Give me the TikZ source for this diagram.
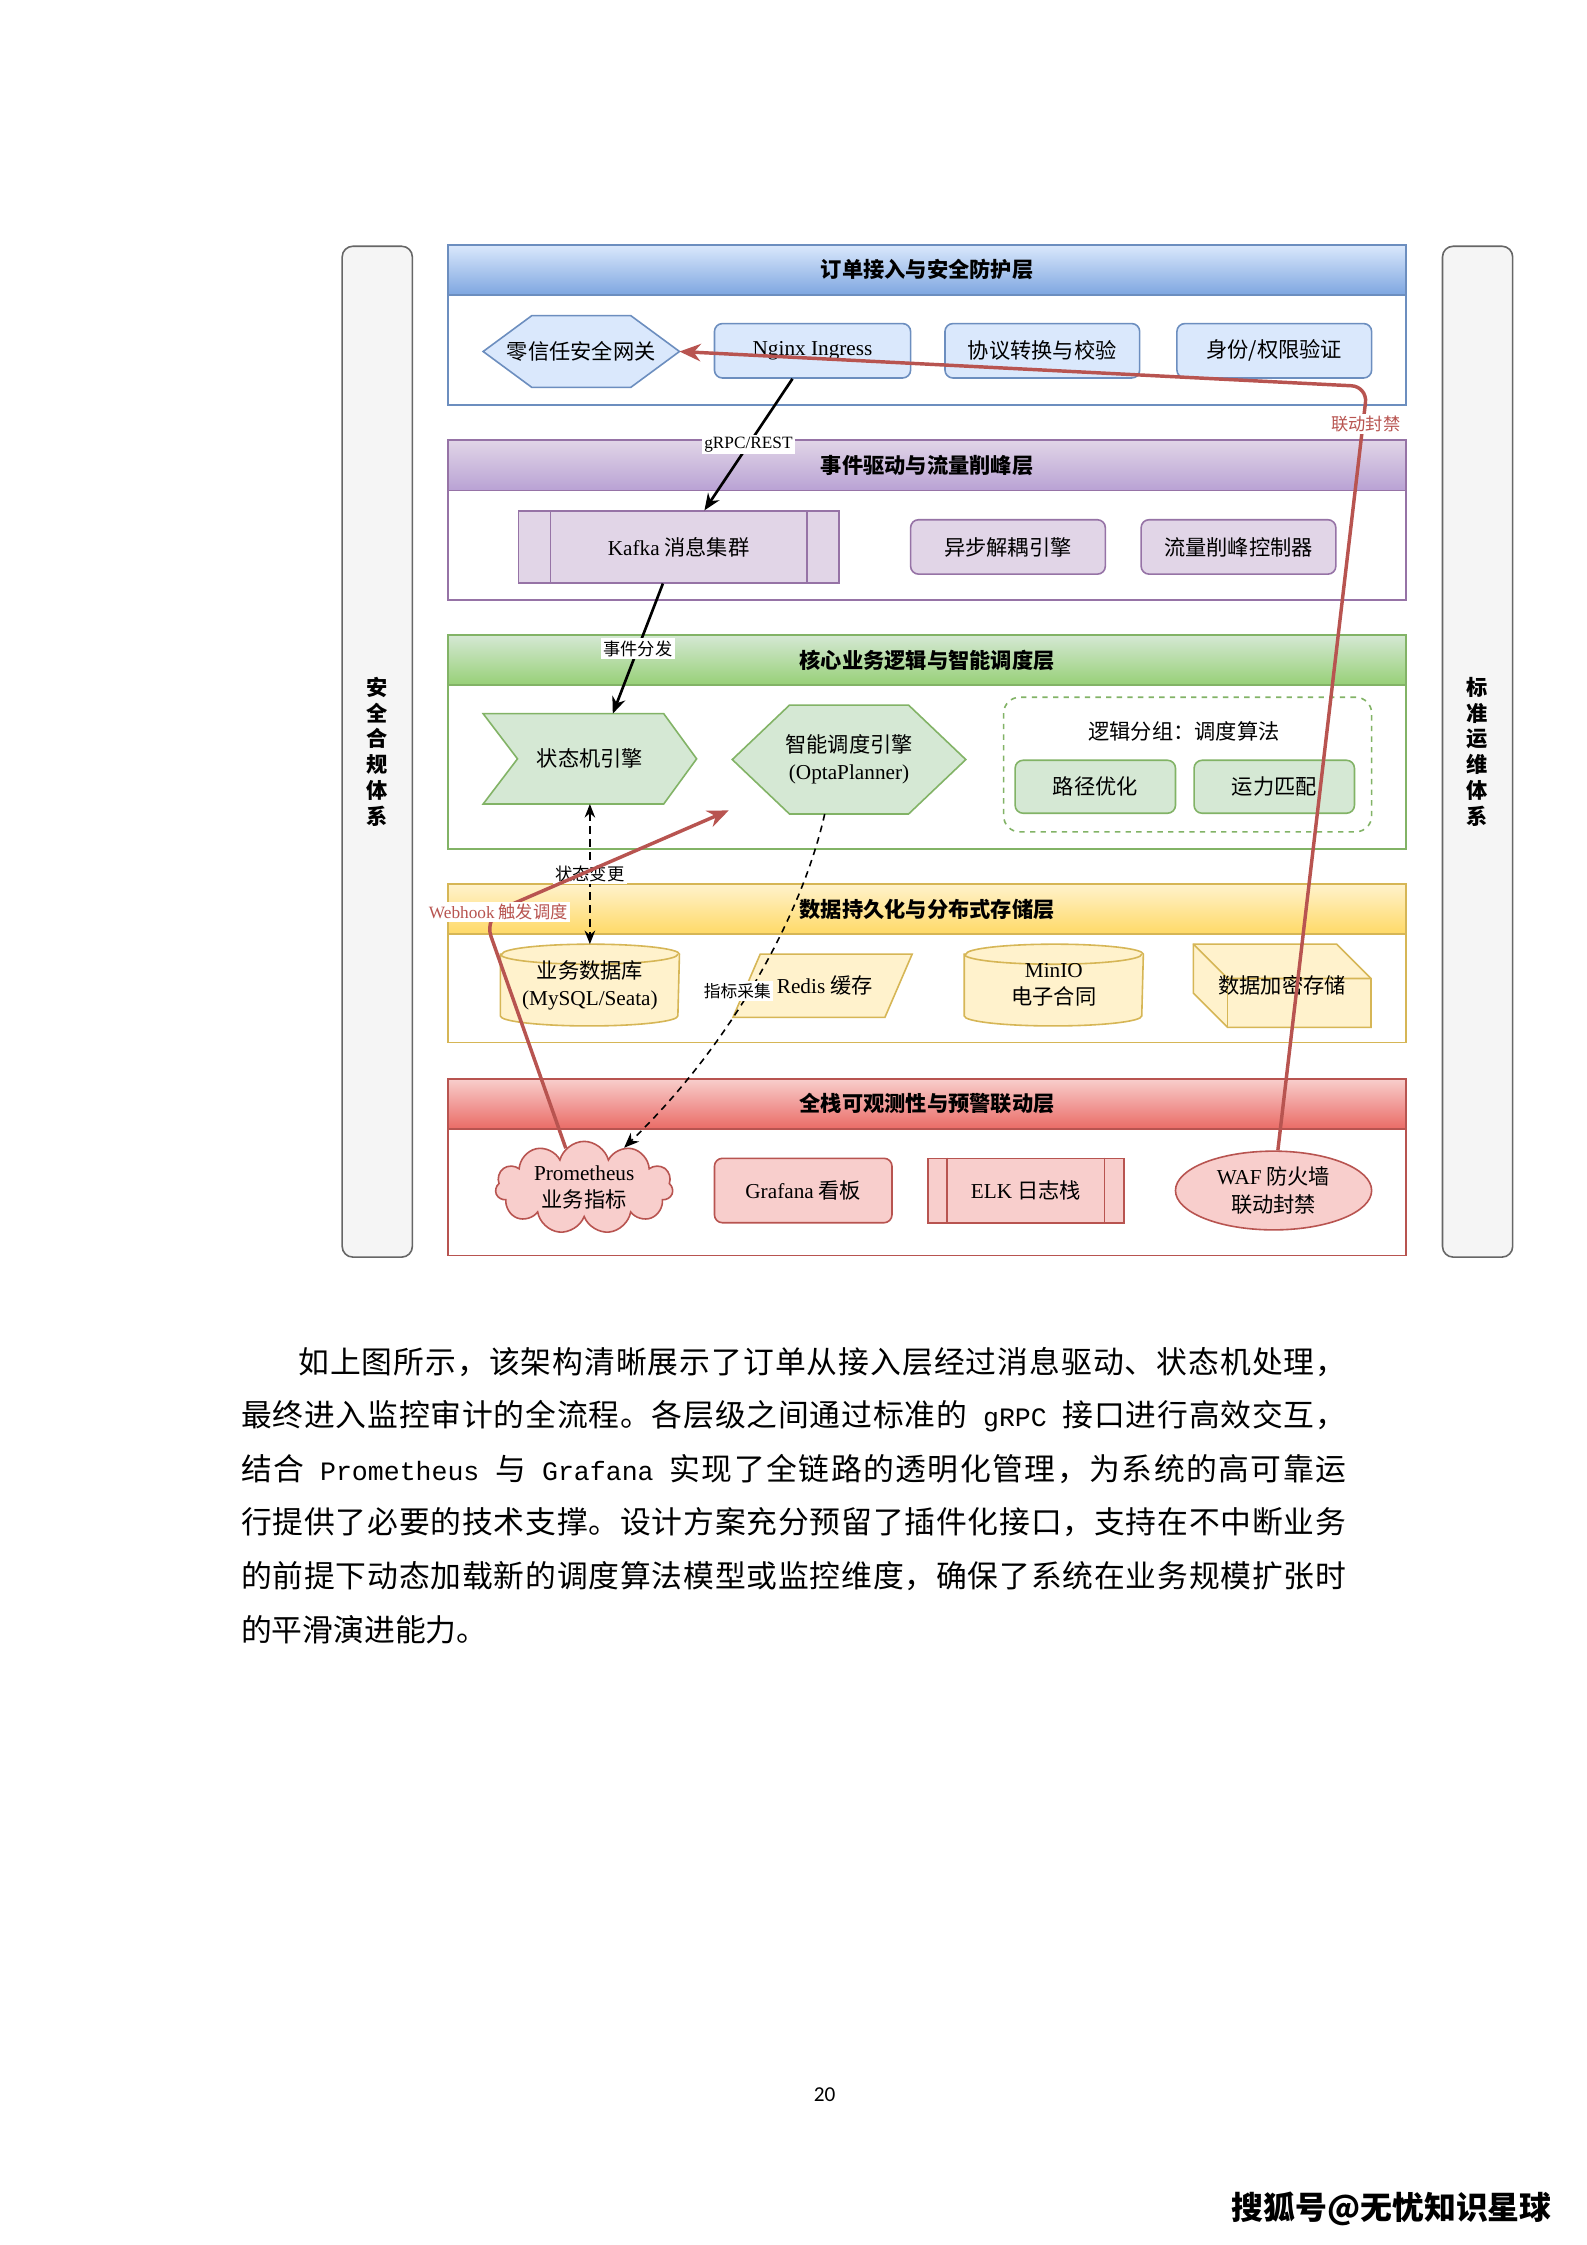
\documentclass[tikz,border=0pt]{standalone}
\usepackage{fontspec}
\setmainfont{Noto Sans CJK SC}
\newfontfamily\tms{Liberation Serif}
\newfontfamily\mono{Liberation Mono}
\newfontfamily\carl{Carlito}
\usetikzlibrary{arrows.meta,shapes.geometric,shapes.symbols,backgrounds}
\newcount\cjkcode
\cjkcode="4E00
\loop\ifnum\cjkcode<"A000 \XeTeXcharclass\cjkcode=7 \advance\cjkcode by 1 \repeat
\XeTeXcharclass"3001=7
\XeTeXcharclass"3002=7
\XeTeXcharclass"FF0C=7
\XeTeXcharclass"FF1A=7
\XeTeXinterchartoks 7 7 = {\hskip 0pt plus 1fil\relax}
\newcommand{\latinword}[1]{{\mono\fontsize{10}{14}\selectfont\space#1\space}}
\newcommand{\spreadline}[2]{\XeTeXinterchartokenstate=1\relax\hbox to #1{#2}}
\newlength\pxu
\setlength\pxu{0.018953cm}
\definecolor{blueline}{HTML}{6C8EBF}
\definecolor{bluefill}{HTML}{DAE8FC}
\definecolor{bluedeep}{HTML}{7EA6E0}
\definecolor{purpleline}{HTML}{9673A6}
\definecolor{purplefill}{HTML}{E1D5E7}
\definecolor{purpledeep}{HTML}{B9A2D4}
\definecolor{greenline}{HTML}{82B366}
\definecolor{greenfill}{HTML}{D5E8D4}
\definecolor{greendeep}{HTML}{97D077}
\definecolor{yellowline}{HTML}{D6B656}
\definecolor{yellowfill}{HTML}{FFF2CC}
\definecolor{yellowdeep}{HTML}{FFD966}
\definecolor{redline}{HTML}{B85450}
\definecolor{redfill}{HTML}{F8CECC}
\definecolor{reddeep}{HTML}{EA6B66}
\definecolor{sideline}{HTML}{666666}
\definecolor{sidefill}{HTML}{F5F5F5}

\begin{document}
\begin{tikzpicture}[x=0.018953cm,y=-0.018953cm]
\tikzset{
  nodefont/.style={font=\fontsize{8}{10.3}\selectfont},
  sidebox/.style={draw=sideline,fill=sidefill,line width=0.6pt,rounded corners=4pt,align=center,
    font=\fontsize{8}{9.7}\selectfont\bfseries,minimum width=49\pxu,minimum height=706\pxu},
  layerbox/.style={draw=#1line,line width=0.6pt},
  band/.style={draw=#1line,line width=0.6pt,top color=#1fill,bottom color=#1deep,inner sep=0pt,
    minimum width=669\pxu,minimum height=35\pxu,font=\fontsize{8}{9.7}\selectfont\bfseries},
  elem/.style={nodefont,align=center,inner sep=1pt,line width=0.6pt},
  roundbox/.style={elem,draw=#1line,fill=#1fill,rounded corners=3pt},
  sharpbox/.style={elem,draw=#1line,fill=#1fill},
  hidden/.style={elem},
  outline/.style={draw=#1line,fill=#1fill,line width=0.6pt},
  groupbox/.style={draw=greenline,line width=0.6pt,dash pattern=on 2pt off 2pt,rounded corners=6pt},
  flow/.style={draw=black,line width=1pt,-{Stealth[length=2.2mm,width=1.8mm]}},
  dashflow/.style={draw=black,line width=0.6pt,dash pattern=on 3pt off 2pt},
  alarmflow/.style={draw=redline,line width=1.3pt,-{Stealth[length=2.8mm,width=2.3mm]}},
  flowlabel/.style={fill=white,inner sep=0.8pt,font=\fontsize{6.5}{7}\selectfont},
  alarmlabel/.style={flowlabel,text=redline},
  paraline/.style={anchor=west,inner sep=0pt,font=\fontsize{11.6}{14}\selectfont}
}
\useasboundingbox (0,0) rectangle (1108,1568);
\begin{scope}[on background layer]
\fill[white] (0,0) rectangle (1108,1568);
\end{scope}

\node[sidebox] (n_secside) at (263.5,525) {安\\全\\合\\规\\体\\系};
\node[sidebox] (n_opsside) at (1032,525) {标\\准\\运\\维\\体\\系};

\draw[layerbox=blue] (313,171) rectangle (982,283);
\node[band=blue] (n_bandA) at (647.5,188.5) {订单接入与安全防护层};
\draw[layerbox=purple] (313,307.5) rectangle (982,419);
\node[band=purple] (n_bandB) at (647.5,325) {事件驱动与流量削峰层};
\draw[layerbox=green] (313,443.5) rectangle (982,593);
\node[band=green] (n_bandC) at (647.5,461) {核心业务逻辑与智能调度层};
\draw[layerbox=yellow] (313,617.5) rectangle (982,728);
\node[band=yellow] (n_bandD) at (647.5,635) {数据持久化与分布式存储层};
\draw[layerbox=red] (313,753.5) rectangle (982,877);
\node[band=red] (n_bandE) at (647.5,771) {全栈可观测性与预警联动层};

\node[hidden,minimum width=136\pxu,minimum height=49\pxu] (n_gw) at (406,245.5) {零信任安全网关};
\node[roundbox=blue,minimum width=137\pxu,minimum height=38\pxu] (n_nginx) at (567.5,245) {\tms Nginx Ingress};
\node[roundbox=blue,minimum width=136\pxu,minimum height=38\pxu] (n_proto) at (728,245) {协议转换与校验};
\node[roundbox=blue,minimum width=136\pxu,minimum height=38\pxu] (n_auth) at (890,245) {身份/权限验证};

\node[sharpbox=purple,minimum width=224\pxu,minimum height=50\pxu] (n_kafka) at (474,382) {{\tms Kafka} 消息集群};
\draw[purpleline,line width=0.6pt] ([xshift=23\pxu]n_kafka.north west) -- ([xshift=23\pxu]n_kafka.south west);
\draw[purpleline,line width=0.6pt] ([xshift=-23\pxu]n_kafka.north east) -- ([xshift=-23\pxu]n_kafka.south east);
\node[roundbox=purple,minimum width=136\pxu,minimum height=38\pxu] (n_async) at (704,382) {异步解耦引擎};
\node[roundbox=purple,minimum width=136\pxu,minimum height=38\pxu] (n_peak) at (865,382) {流量削峰控制器};

\node[hidden,minimum width=148\pxu,minimum height=62\pxu] (n_fsm) at (412,530) {状态机引擎};
\node[hidden,minimum width=162\pxu,minimum height=75\pxu] (n_opta) at (593,530.5) {智能调度引擎\\{\tms (OptaPlanner)}};
\node[groupbox,minimum width=257\pxu,minimum height=94\pxu] (n_algo) at (829.5,534) {};
\node[hidden] (n_algolbl) at (827,511) {逻辑分组：调度算法};
\node[roundbox=green,minimum width=112\pxu,minimum height=37\pxu] (n_route) at (765,549.5) {路径优化};
\node[roundbox=green,minimum width=112\pxu,minimum height=37\pxu] (n_match) at (890,549.5) {运力匹配};

\node[hidden,minimum width=124\pxu,minimum height=56\pxu] (n_db) at (412,688) {业务数据库\\{\tms (MySQL/Seata)}};
\node[hidden,minimum width=124\pxu,minimum height=43\pxu] (n_redis) at (576,688.5) {{\tms Redis} 缓存};
\node[hidden,minimum width=124\pxu,minimum height=56\pxu] (n_minio) at (736,688) {{\tms MinIO}\\电子合同};
\node[hidden,minimum width=123\pxu,minimum height=57\pxu] (n_vault) at (895.5,688.5) {数据加密存储};

\node[elem,cloud,cloud puffs=11,aspect=2.2,inner sep=0pt,draw=redline,fill=redfill,minimum width=124\pxu,minimum height=55\pxu] (n_prom) at (408,829.5) {{\tms Prometheus}\\业务指标};
\node[roundbox=red,minimum width=124\pxu,minimum height=45\pxu] (n_grafana) at (561,831.5) {{\tms Grafana} 看板};
\node[sharpbox=red,minimum width=137\pxu,minimum height=45\pxu] (n_elk) at (716.5,831.5) {{\tms ELK} 日志栈};
\draw[redline,line width=0.6pt] ([xshift=14\pxu]n_elk.north west) -- ([xshift=14\pxu]n_elk.south west);
\draw[redline,line width=0.6pt] ([xshift=-14\pxu]n_elk.north east) -- ([xshift=-14\pxu]n_elk.south east);
\node[elem,ellipse,inner sep=0pt,draw=redline,fill=redfill,minimum width=137\pxu,minimum height=55\pxu] (n_waf) at (889.5,831.5) {{\tms WAF} 防火墙\\联动封禁};

\begin{scope}[on background layer]
\draw[outline=blue] (n_gw.west) -- ([xshift=34\pxu]n_gw.north west) -- ([xshift=-34\pxu]n_gw.north east) -- (n_gw.east)
  -- ([xshift=-34\pxu]n_gw.south east) -- ([xshift=34\pxu]n_gw.south west) -- cycle;
\draw[outline=green] ([xshift=24\pxu]n_fsm.west) -- (n_fsm.north west) -- ([xshift=-23\pxu]n_fsm.north east) -- (n_fsm.east)
  -- ([xshift=-23\pxu]n_fsm.south east) -- (n_fsm.south west) -- cycle;
\draw[outline=green] (n_opta.west) -- ([xshift=40\pxu]n_opta.north west) -- ([xshift=-40\pxu]n_opta.north east) -- (n_opta.east)
  -- ([xshift=-40\pxu]n_opta.south east) -- ([xshift=40\pxu]n_opta.south west) -- cycle;
\draw[outline=yellow] ([yshift=-7\pxu]n_db.north west) -- ([yshift=7\pxu]n_db.south west)
  arc[start angle=180,end angle=360,x radius=62\pxu,y radius=7\pxu] -- ([yshift=-7\pxu]n_db.north east)
  arc[start angle=0,end angle=180,x radius=62\pxu,y radius=7\pxu] -- cycle;
\draw[outline=yellow,fill=none] ([yshift=-7\pxu]n_db.north west) arc[start angle=180,end angle=360,x radius=62\pxu,y radius=7\pxu];
\draw[outline=yellow] ([yshift=-7\pxu]n_minio.north west) -- ([yshift=7\pxu]n_minio.south west)
  arc[start angle=180,end angle=360,x radius=62\pxu,y radius=7\pxu] -- ([yshift=-7\pxu]n_minio.north east)
  arc[start angle=0,end angle=180,x radius=62\pxu,y radius=7\pxu] -- cycle;
\draw[outline=yellow,fill=none] ([yshift=-7\pxu]n_minio.north west) arc[start angle=180,end angle=360,x radius=62\pxu,y radius=7\pxu];
\draw[outline=yellow] ([xshift=-1.5\pxu]n_redis.south west) -- ([xshift=17.5\pxu]n_redis.north west) -- ([xshift=-1.5\pxu]n_redis.north east)
  -- ([xshift=-20.5\pxu]n_redis.south east) -- cycle;
\draw[outline=yellow] (n_vault.north west) -- ([xshift=-24\pxu]n_vault.north east) -- ([yshift=-24\pxu]n_vault.north east)
  -- (n_vault.south east) -- ([xshift=24\pxu]n_vault.south west) -- ([yshift=24\pxu]n_vault.south west) -- cycle;
\draw[outline=yellow,fill=none] (n_vault.north west) -- ([xshift=24\pxu,yshift=-24\pxu]n_vault.north west)
  -- ([yshift=-24\pxu]n_vault.north east);
\draw[outline=yellow,fill=none] ([xshift=24\pxu,yshift=-24\pxu]n_vault.north west) -- ([xshift=24\pxu]n_vault.south west);
\end{scope}

\draw[flow] ([xshift=-14\pxu]n_nginx.south) -- node[flowlabel] {\tms gRPC/REST} ([xshift=18\pxu]n_kafka.north);
\draw[flow] ([xshift=-11\pxu]n_kafka.south) -- node[flowlabel] {事件分发} ([xshift=16\pxu]n_fsm.north);
\draw[dashflow,{Stealth[length=1.8mm,width=1.4mm]}-{Stealth[length=1.8mm,width=1.4mm]}] (n_fsm.south) -- node[flowlabel] {状态变更} (n_db.north);
\draw[dashflow,dash pattern=on 2.5pt off 2pt,-{Stealth[length=2mm,width=1.6mm]}] ([xshift=-17\pxu]n_opta.south)
  .. controls (560,640) and (510,730) .. (n_prom.45) node[flowlabel,pos=0.53,xshift=-4.5pt,font=\fontsize{6.3}{7}\selectfont] {指标采集};

\coordinate (hookbend) at (338,640);
\coordinate (hooktip) at (509,566);
\draw[alarmflow,rounded corners=8pt] (n_prom.115) -- (hookbend) -- (hooktip);
\node[alarmlabel] (n_hooklbl) at (348,637) {{\tms Webhook} 触发调度};
\coordinate (banbend) at (955,270);
\draw[alarmflow,rounded corners=6pt] ([xshift=3\pxu]n_waf.north) -- (banbend) -- (n_gw.east);
\node[alarmlabel] (n_banlbl) at (954,296) {联动封禁};

\node[paraline] (n_txt1) at (208,951) {\spreadline{732\pxu}{如上图所示，该架构清晰展示了订单从接入层经过消息驱动、状态机处理，}};
\node[paraline] (n_txt2) at (168,989) {\spreadline{772\pxu}{最终进入监控审计的全流程。各层级之间通过标准的\latinword{gRPC}接口进行高效交互，}};
\node[paraline] (n_txt3) at (168,1026) {\spreadline{772\pxu}{结合\latinword{Prometheus}与\latinword{Grafana}实现了全链路的透明化管理，为系统的高可靠运}};
\node[paraline] (n_txt4) at (168,1063) {\spreadline{772\pxu}{行提供了必要的技术支撑。设计方案充分预留了插件化接口，支持在不中断业务}};
\node[paraline] (n_txt5) at (168,1101) {\spreadline{772\pxu}{的前提下动态加载新的调度算法模型或监控维度，确保了系统在业务规模扩张时}};
\node[paraline] (n_txt6) at (168,1138) {的平滑演进能力。};

\node[font=\carl\fontsize{8}{9}\selectfont] (n_pageno) at (576,1463) {20};
\node[font=\fontsize{12}{14}\selectfont\bfseries] (n_srcmark) at (972,1543) {搜狐号@无忧知识星球};
\end{tikzpicture}
\end{document}
